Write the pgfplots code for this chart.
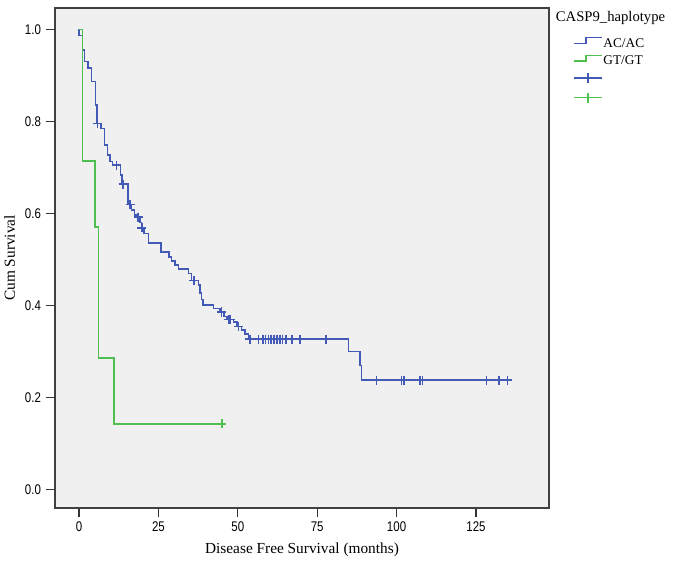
\documentclass[border=0pt]{standalone}
\usepackage{fontspec}
\setmainfont{Liberation Serif}
\newfontfamily\tickfont{Liberation Sans}[FakeStretch=0.82]
\usepackage{pgfplots}
\pgfplotsset{compat=1.18}
\definecolor{kmblue}{HTML}{4259B5}
\definecolor{kmgreen}{HTML}{4FBF4F}
\definecolor{bgc}{HTML}{F0F0F0}
\begin{document}
\begin{tikzpicture}
\path[use as bounding box] (-41.25pt,-48pt) rectangle (465pt,381pt);
\begin{axis}[
 scale only axis, width=370.5pt, height=375pt,
 xmin=-7.56, xmax=148, ymin=-0.040, ymax=1.0467,
 clip=false,
 axis background/.style={fill=bgc},
 axis line style={draw=black!75, line width=1.1pt},
 xtick={0,25,50,75,100,125}, ytick={0,0.2,0.4,0.6,0.8,1.0},
 yticklabel style={/pgf/number format/fixed, /pgf/number format/fixed zerofill, /pgf/number format/precision=1},
 tick align=outside, tick pos=left, major tick length=7pt,
 tick style={black!80, line width=0.9pt},
 ticklabel style={font=\tickfont\fontsize{10.5}{12}\selectfont},
 /pgf/number format/assume math mode=true,
 xlabel={Disease Free Survival (months)}, ylabel={Cum Survival},
 label style={font=\fontsize{11.5}{13}\selectfont},
 xlabel style={at={(rel axis cs:0.5,-0.083)}, anchor=center},
 ylabel style={at={(rel axis cs:-0.0918,0.5)}, anchor=center},
 legend cell align=left,
 legend style={draw=none, fill=none, at={(rel axis cs:1,1)}, anchor=north west,
   xshift=18pt, yshift=-21.5pt, inner sep=0pt, row sep=3pt,
   font=\fontsize{10}{11}\selectfont,
   nodes={inner sep=0.5pt, text height=7pt, text depth=2pt},
   /tikz/every even column/.append style={column sep=1pt}},
]
\addplot[kmblue, line width=1.1pt, const plot,
  legend image code/.code={\draw[kmblue, line width=1.1pt] (0pt,0.5pt) -- (9pt,0.5pt) -- (9pt,4.7pt) -- (21pt,4.7pt);}]
coordinates {
(0,1) (0,0.987) (1.05,0.955) (1.67,0.930) (2.9,0.916) (4.0,0.887) (5.26,0.836)
(5.6,0.796) (6.9,0.785) (8.0,0.749) (8.9,0.727) (9.8,0.713) (10.6,0.705)
(13.1,0.684) (13.5,0.664) (15.5,0.620) (16.6,0.608) (17.4,0.597) (18.0,0.592)
(19.2,0.580) (19.6,0.569) (20.4,0.557) (21.9,0.536) (25.8,0.516) (28.3,0.506)
(29.2,0.497) (30.2,0.488) (31.3,0.479) (34.4,0.470) (35.5,0.455) (37.6,0.445)
(38.1,0.427) (38.6,0.413) (39.1,0.401) (42.3,0.394) (44.4,0.386) (45.6,0.376)
(46.6,0.370) (48.6,0.364) (49.8,0.355) (51.2,0.347) (52.3,0.338) (53.3,0.327)
(84.8,0.300) (88.5,0.270) (89.0,0.238) (135.5,0.238)
};
\addlegendentry{AC/AC}
\addplot[kmgreen, line width=1.1pt, const plot,
  legend image code/.code={\draw[kmgreen, line width=1.1pt] (0pt,0.5pt) -- (9pt,0.5pt) -- (9pt,4.7pt) -- (21pt,4.7pt);}]
coordinates {
(0,1) (1.1,0.714) (5.0,0.571) (6.1,0.286) (11.0,0.143) (45.0,0.143)
};
\addlegendentry{GT/GT}
\addplot[only marks, mark=+, mark size=3.4pt, kmblue, mark options={line width=1.1pt},
  legend image code/.code={\draw[kmblue, line width=1.1pt] (0pt,2.8pt) -- (21pt,2.8pt); \draw[kmblue, line width=1.1pt] (10.5pt,-0.8pt) -- (10.5pt,6.4pt);}]
coordinates {
(5.9,0.796) (11.8,0.705) (13.9,0.664) (16.1,0.620) (18.6,0.592) (19.8,0.569)
(36.2,0.455) (44.9,0.386) (47.0,0.370) (47.6,0.370) (50.2,0.355)
(53.8,0.327) (56.6,0.327) (58.0,0.327) (58.8,0.327) (59.6,0.327) (60.4,0.327)
(61.4,0.327) (62.3,0.327) (63.3,0.327) (64.1,0.327) (65.2,0.327) (67.0,0.327)
(69.6,0.327) (77.8,0.327)
(93.7,0.238) (101.6,0.238) (102.4,0.238) (107.4,0.238) (108.2,0.238)
(128.4,0.238) (132.3,0.238) (134.9,0.238)
};
\addlegendentry{}
\addplot[only marks, mark=+, mark size=3.4pt, kmgreen, mark options={line width=1.1pt},
  legend image code/.code={\draw[kmgreen, line width=1.1pt] (0pt,2.8pt) -- (21pt,2.8pt); \draw[kmgreen, line width=1.1pt] (10.5pt,-0.8pt) -- (10.5pt,6.4pt);}]
coordinates {(45.0,0.143)};
\addlegendentry{}
\node[anchor=west, font=\fontsize{11}{13}\selectfont, inner sep=0pt] at ([xshift=5pt,yshift=-7.5pt]rel axis cs:1,1) {CASP9\_haplotype};
\end{axis}
\end{tikzpicture}
\end{document}
